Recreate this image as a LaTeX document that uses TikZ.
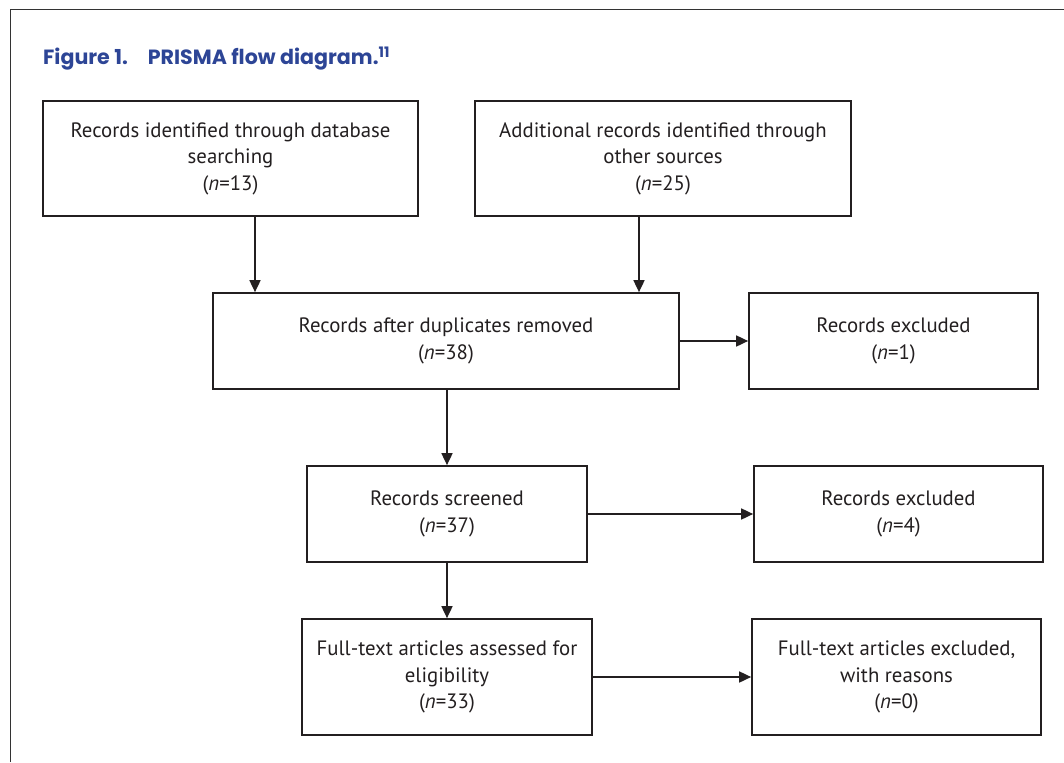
\documentclass[tikz,border=0pt]{standalone}
\usepackage{fontspec}
\setmainfont{PT Sans}
\newfontfamily\capfont{Poppins}
\usetikzlibrary{arrows.meta}
\definecolor{txt}{HTML}{231F20}
\definecolor{capblue}{HTML}{2D4596}
\begin{document}
\begin{tikzpicture}[x=1pt,y=-1pt,
  box/.style={draw=txt, line width=1.7pt, rectangle, inner sep=0pt, align=center,
    font=\fontsize{20.8}{26.5}\selectfont, text=txt},
  arr/.style={draw=txt, line width=1.7pt, -{Triangle[length=12pt,width=11pt]}},
  frame/.style={draw=black!80, line width=1pt}]
\useasboundingbox (0,0) rectangle (1064,762);
\draw[frame] (10,762) -- (10,10) -- (1064,10);

\node[anchor=base west, font=\capfont\bfseries\fontsize{20.6}{24}\selectfont, text=capblue, inner sep=0pt]
  (cap) at (43,65) {Figure 1.\hspace{20pt}PRISMA flow diagram.\textsuperscript{11}};

\node[box, minimum width=375pt, minimum height=115pt] (b1) at (230.5,158.5)
  {Records identified through database\\searching\\(\textit{n}=13)};
\node[box, minimum width=376pt, minimum height=115pt] (b2) at (663,158.5)
  {Additional records identified through\\other sources\\(\textit{n}=25)};
\node[box, minimum width=466pt, minimum height=96pt] (b3) at (446,341)
  {Records after duplicates removed\\(\textit{n}=38)};
\node[box, minimum width=289pt, minimum height=96pt] (b4) at (893.5,341)
  {Records excluded\\(\textit{n}=1)};
\node[box, minimum width=280pt, minimum height=96pt] (b5) at (447,514)
  {Records screened\\(\textit{n}=37)};
\node[box, minimum width=289pt, minimum height=96pt] (b6) at (898.5,514)
  {Records excluded\\(\textit{n}=4)};
\node[box, minimum width=290pt, minimum height=116pt] (b7) at (447,677)
  {Full-text articles assessed for\\eligibility\\(\textit{n}=33)};
\node[box, minimum width=289pt, minimum height=116pt] (b8) at (896.5,677)
  {Full-text articles excluded,\\with reasons\\(\textit{n}=0)};

\coordinate (c1) at (255,0);
\coordinate (c2) at (639,0);
\draw[arr] (b1.south -| c1) -- (b3.north -| c1);
\draw[arr] (b2.south -| c2) -- (b3.north -| c2);
\draw[arr] (b3.east) -- (b4.west);
\draw[arr] (b3.south -| b5.north) -- (b5.north);
\draw[arr] (b5.east) -- (b6.west);
\draw[arr] (b5.south) -- (b7.north);
\draw[arr] (b7.east) -- (b8.west);
\end{tikzpicture}
\end{document}
